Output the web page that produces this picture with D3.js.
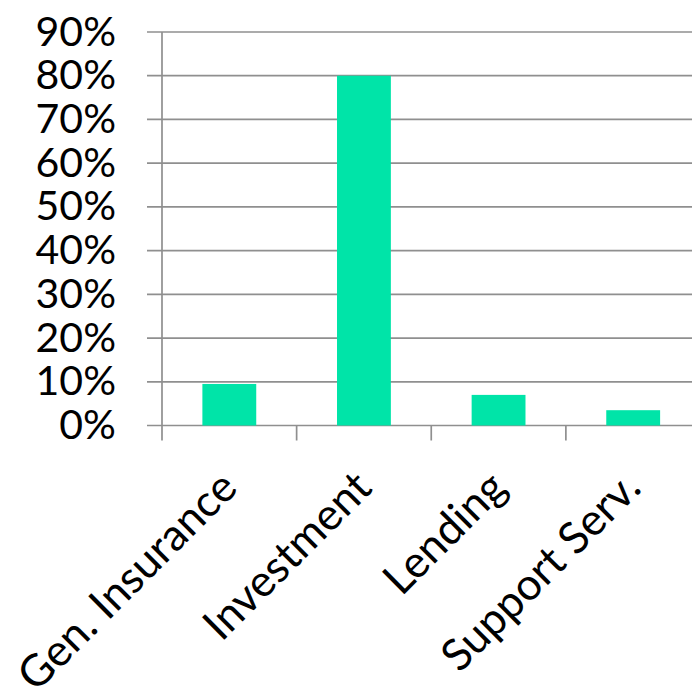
<!DOCTYPE html>
<html>
<head>
<meta charset="utf-8">
<script src="https://cdn.jsdelivr.net/npm/d3@7"></script>
<style>
  body { margin: 0; background: #fff; }
  text { font-family: Lato, "Open Sans", sans-serif; fill: #000; }
</style>
</head>
<body>
<div id="chart"></div>
<script>
const categories = ['Gen. Insurance', 'Investment', 'Lending', 'Support Serv.'];
const shares = [0.095, 0.80, 0.07, 0.035];
const yTicks = [0, 0.1, 0.2, 0.3, 0.4, 0.5, 0.6, 0.7, 0.8, 0.9];

const width = 692, height = 687;
const plot = { left: 162, right: 700.5, top: 32, bottom: 425.5 };

const svg = d3.select('#chart').append('svg')
    .attr('width', width)
    .attr('height', height);

const x = d3.scaleBand()
    .domain(categories)
    .range([plot.left, plot.right])
    .paddingInner(0.6)
    .paddingOuter(0.3);

const y = d3.scaleLinear()
    .domain([0, 0.9])
    .range([plot.bottom, plot.top]);

const grid = '#8f8f8f';

// gridlines + y labels
yTicks.forEach(t => {
    svg.append('line')
        .attr('x1', plot.left - 15)
        .attr('x2', plot.right)
        .attr('y1', y(t))
        .attr('y2', y(t))
        .attr('stroke', grid)
        .attr('stroke-width', 1.7);
    svg.append('text')
        .attr('x', 116)
        .attr('y', y(t) - 2)
        .attr('text-anchor', 'end')
        .attr('dominant-baseline', 'central')
        .style('font-size', '41px')
        .text(d3.format('.0%')(t));
});

// y axis line
svg.append('line')
    .attr('x1', plot.left).attr('x2', plot.left)
    .attr('y1', plot.top).attr('y2', plot.bottom + 15)
    .attr('stroke', grid)
    .attr('stroke-width', 1.7);

// category ticks
categories.forEach((c, i) => {
    const tx = plot.left + (i + 1) * x.step();
    svg.append('line')
        .attr('x1', tx).attr('x2', tx)
        .attr('y1', plot.bottom).attr('y2', plot.bottom + 15)
        .attr('stroke', grid)
        .attr('stroke-width', 1.7);
});

// bars
svg.selectAll('rect.bar')
    .data(categories)
    .enter().append('rect')
    .attr('class', 'bar')
    .attr('x', d => x(d))
    .attr('width', x.bandwidth())
    .attr('y', (d, i) => y(shares[i]))
    .attr('height', (d, i) => y(0) - y(shares[i]))
    .attr('fill', '#00e4a8');

// rotated category labels
categories.forEach(c => {
    const cx = x(c) + x.bandwidth() / 2 + 10;
    const cy = 490;
    svg.append('text')
        .attr('transform', `translate(${cx},${cy}) rotate(-45)`)
        .attr('text-anchor', 'end')
        .style('font-size', '44px')
        .text(c);
});
</script>
</body>
</html>
